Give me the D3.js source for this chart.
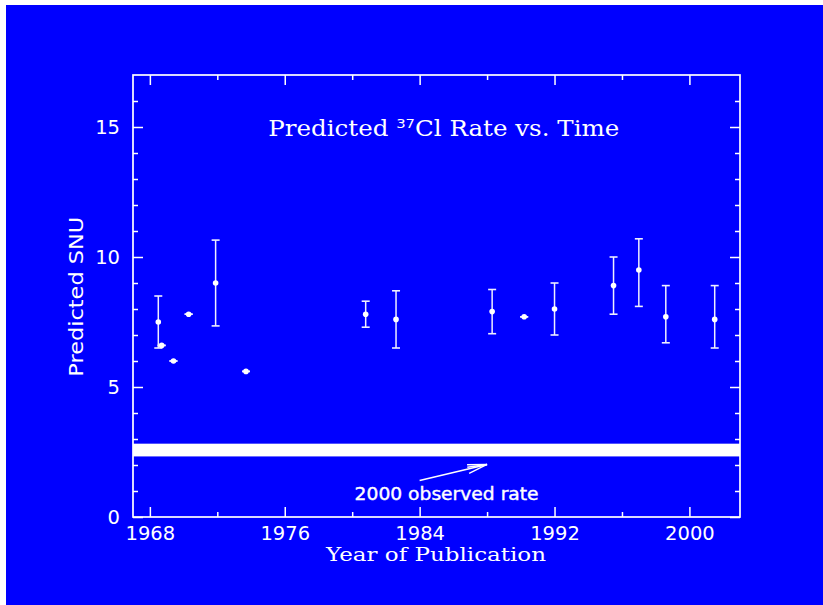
<!DOCTYPE html>
<html>
<head>
<meta charset="utf-8">
<script src="https://cdn.jsdelivr.net/npm/d3@7"></script>
<style>
  html, body { margin: 0; padding: 0; background: #ffffff; }
  svg { display: block; }
</style>
</head>
<body>
<script>
// ---- data ----
const years   = [1968.5, 1968.7, 1969.4, 1970.3, 1971.9, 1973.7, 1980.8, 1982.6, 1988.3, 1990.2, 1992.0, 1995.5, 1997.0, 1998.6, 2001.5];
const values  = [7.5, 6.6, 6.0, 7.8, 9.0, 5.6, 7.8, 7.6, 7.9, 7.7, 8.0, 8.9, 9.5, 7.7, 7.6];
const errHigh = [8.5, 6.6, 6.0, 7.8, 10.65, 5.6, 8.3, 8.7, 8.75, 7.7, 9.0, 10.0, 10.7, 8.9, 8.9];
const errLow  = [6.5, 6.6, 6.0, 7.8, 7.35, 5.6, 7.3, 6.5, 7.05, 7.7, 7.0, 7.8, 8.1, 6.7, 6.5];
const observedBand = [2.33, 2.82];
const xMajorTicks = [1968, 1976, 1984, 1992, 2000];
const xMinorTicks = [1972, 1980, 1988, 1996];
const yMajorTicks = [0, 5, 10, 15];
const yMinorTicks = [1, 2, 3, 4, 6, 7, 8, 9, 11, 12, 13, 14, 16];
const arrowFrom = [1984.0, 1.4];
const arrowTo   = [1988.0, 2.02];
const labelAt   = [1985.6, 0.64];

const W = 823, H = 605;
const L = 133, R = 740, T = 75, B = 517;
const BLUE = "#0000ff";

const svg = d3.select("body").append("svg").attr("width", W).attr("height", H);
svg.append("rect").attr("x", 6).attr("y", 5).attr("width", W - 6).attr("height", H - 5).attr("fill", BLUE);

const x = d3.scaleLinear().domain([1967, 2003]).range([L, R]);
const y = d3.scaleLinear().domain([0, 17]).range([B, T]);

const tickFont = "'DejaVu Sans', sans-serif";

function styleAxis(g) {
  g.select(".domain").remove();
  g.selectAll("line").attr("stroke", "#fff").attr("stroke-width", 1.5);
  g.selectAll("text").attr("fill", "#fff").attr("font-family", tickFont).attr("font-size", 19.5);
}

// bottom
svg.append("g").attr("transform", `translate(0,${B})`)
  .call(d3.axisBottom(x).tickValues(xMajorTicks).tickSize(-10).tickPadding(9).tickFormat(d3.format("d")))
  .call(styleAxis);
svg.append("g").attr("transform", `translate(0,${B})`)
  .call(d3.axisBottom(x).tickValues(xMinorTicks).tickSize(-5).tickFormat(""))
  .call(styleAxis);
// top
svg.append("g").attr("transform", `translate(0,${T})`)
  .call(d3.axisTop(x).tickValues(xMajorTicks).tickSize(-10).tickFormat(""))
  .call(styleAxis);
svg.append("g").attr("transform", `translate(0,${T})`)
  .call(d3.axisTop(x).tickValues(xMinorTicks).tickSize(-5).tickFormat(""))
  .call(styleAxis);
// left
svg.append("g").attr("transform", `translate(${L},0)`)
  .call(d3.axisLeft(y).tickValues(yMajorTicks).tickSize(-10).tickPadding(13).tickFormat(d3.format("d")))
  .call(styleAxis);
svg.append("g").attr("transform", `translate(${L},0)`)
  .call(d3.axisLeft(y).tickValues(yMinorTicks).tickSize(-5).tickFormat(""))
  .call(styleAxis);
// right
svg.append("g").attr("transform", `translate(${R},0)`)
  .call(d3.axisRight(y).tickValues(yMajorTicks).tickSize(-10).tickFormat(""))
  .call(styleAxis);
svg.append("g").attr("transform", `translate(${R},0)`)
  .call(d3.axisRight(y).tickValues(yMinorTicks).tickSize(-5).tickFormat(""))
  .call(styleAxis);

// observed band
svg.append("rect")
  .attr("x", L).attr("width", R - L)
  .attr("y", y(observedBand[1])).attr("height", y(observedBand[0]) - y(observedBand[1]))
  .attr("fill", "#fff");

// frame
svg.append("rect").attr("x", L).attr("y", T).attr("width", R - L).attr("height", B - T)
  .attr("fill", "none").attr("stroke", "#fff").attr("stroke-width", 1.7);

// error bars and points
const pts = years.map((yr, i) => ({yr, v: values[i], hi: errHigh[i], lo: errLow[i]}));
const g = svg.append("g");
const cap = 4;
g.selectAll("line.eb").data(pts).join("line").attr("class", "eb")
  .attr("x1", d => x(d.yr)).attr("x2", d => x(d.yr))
  .attr("y1", d => y(d.hi)).attr("y2", d => y(d.lo))
  .attr("stroke", "#eef").attr("stroke-width", 1.5);
g.selectAll("line.capHi").data(pts).join("line").attr("class", "capHi")
  .attr("x1", d => x(d.yr) - cap).attr("x2", d => x(d.yr) + cap)
  .attr("y1", d => y(d.hi)).attr("y2", d => y(d.hi))
  .attr("stroke", "#eef").attr("stroke-width", 1.6);
g.selectAll("line.capLo").data(pts).join("line").attr("class", "capLo")
  .attr("x1", d => x(d.yr) - cap).attr("x2", d => x(d.yr) + cap)
  .attr("y1", d => y(d.lo)).attr("y2", d => y(d.lo))
  .attr("stroke", "#eef").attr("stroke-width", 1.6);
g.selectAll("circle").data(pts).join("circle")
  .attr("cx", d => x(d.yr)).attr("cy", d => y(d.v)).attr("r", 2.8)
  .attr("fill", "#fff");

// arrow annotation
const ax1 = x(arrowFrom[0]), ay1 = y(arrowFrom[1]), ax2 = x(arrowTo[0]), ay2 = y(arrowTo[1]);
svg.append("line").attr("x1", ax1).attr("y1", ay1).attr("x2", ax2).attr("y2", ay2)
  .attr("stroke", "#fff").attr("stroke-width", 1.5);
const ang = Math.atan2(ay2 - ay1, ax2 - ax1);
const hl = 20, spread = 0.22;
[ang + spread, ang - spread, ang + spread * 0.45].forEach(a => {
  svg.append("line").attr("x1", ax2).attr("y1", ay2)
    .attr("x2", ax2 - hl * Math.cos(a)).attr("y2", ay2 - hl * Math.sin(a))
    .attr("stroke", "#fff").attr("stroke-width", 1.4);
});
svg.append("text").attr("x", x(labelAt[0])).attr("y", y(labelAt[1]))
  .attr("text-anchor", "middle").attr("fill", "#fff").attr("stroke", "#fff").attr("stroke-width", 0.4)
  .attr("font-family", tickFont).attr("font-size", 17.5)
  .attr("textLength", 184).attr("lengthAdjust", "spacingAndGlyphs")
  .text("2000 observed rate");

// title
const title = svg.append("text").attr("x", 443.8).attr("y", 135.7)
  .attr("text-anchor", "middle").attr("fill", "#fff")
  .attr("font-family", "'DejaVu Serif', 'Liberation Serif', serif").attr("font-size", 21.5)
  .attr("textLength", 351).attr("lengthAdjust", "spacingAndGlyphs");
title.append("tspan").text("Predicted ");
title.append("tspan").attr("font-size", 13).attr("dy", -8).attr("font-family", tickFont).text("37");
title.append("tspan").attr("dy", 8).text("Cl Rate vs. Time");

// axis titles
svg.append("text").attr("x", 436).attr("y", 560.7)
  .attr("text-anchor", "middle").attr("fill", "#fff")
  .attr("font-family", "'DejaVu Serif', 'Liberation Serif', serif").attr("font-size", 19)
  .attr("textLength", 220).attr("lengthAdjust", "spacingAndGlyphs")
  .text("Year of Publication");

svg.append("text").attr("transform", `translate(83,${(T + B) / 2 + 0.7}) rotate(-90)`)
  .attr("text-anchor", "middle").attr("fill", "#fff")
  .attr("font-family", tickFont).attr("font-size", 20)
  .attr("textLength", 160).attr("lengthAdjust", "spacingAndGlyphs")
  .text("Predicted SNU");
</script>
</body>
</html>
